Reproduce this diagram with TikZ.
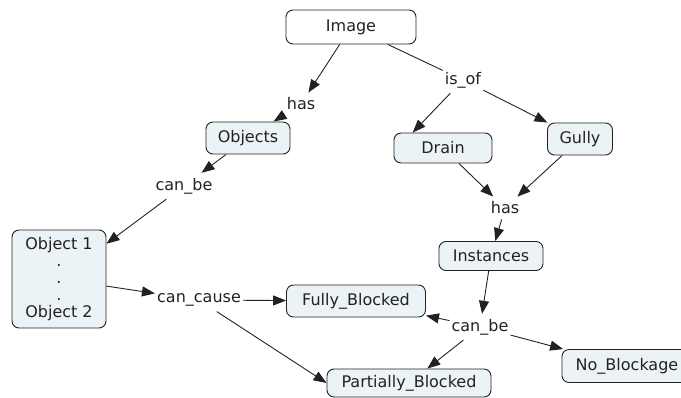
\documentclass[tikz,border=0pt]{standalone}
\usepackage{fontspec}
\setmainfont{DejaVu Sans}
\usepackage{xcolor}
\usetikzlibrary{arrows.meta}
\definecolor{boxfill}{RGB}{235,243,247}
\definecolor{ink}{RGB}{34,34,34}

\begin{document}
\begin{tikzpicture}[x=1pt,y=-1pt,
    font=\fontsize{16}{17}\selectfont,
    concept/.style={draw=ink,fill=boxfill,rounded corners=7pt,text=ink,inner sep=0pt,line width=0.9pt},
    linkword/.style={text=ink,inner xsep=2pt,inner ysep=5pt},
    >={Triangle[length=13pt,width=10pt]}]
\useasboundingbox (0,0) rectangle (681,398);
\clip (0,0) rectangle (681,398);
\begin{scope}
    \node[concept,fill=white,minimum width=130pt,minimum height=34pt] (img) at (351,27) {Image};
    \node[concept,minimum width=84pt,minimum height=32pt] (objs) at (248,138) {Objects};
    \node[concept,minimum width=98pt,minimum height=30pt] (drain) at (443,148) {Drain};
    \node[concept,minimum width=65pt,minimum height=32pt] (gully) at (580,139) {Gully};
    \node[concept,minimum width=104pt,minimum height=29pt] (inst) at (491,256) {Instances};
    \node[concept,align=center,minimum width=94pt,minimum height=98pt] (obj) at (59,279) {Object 1\\.\\.\\.\\Object 2};
    \node[concept,minimum width=139pt,minimum height=32pt] (full) at (356,301) {Fully\_Blocked};
    \node[concept,minimum width=164pt,minimum height=28pt] (part) at (409,383) {Partially\_Blocked};
    \node[concept,minimum width=130pt,minimum height=33pt] (none) at (627,366) {No\_Blockage};
\end{scope}
\begin{scope}
    \node[linkword] (has1) at (301,104) {has};
    \node[linkword] (isof) at (463,80) {is\_of};
    \node[linkword] (canbe1) at (184,186) {can\_be};
    \node[linkword] (has2) at (505,208) {has};
    \node[linkword] (cause) at (199,300) {can\_cause};
    \node[linkword] (canbe2) at (480,327) {can\_be};
\end{scope}
\begin{scope}[draw=ink,line width=0.9pt]
\draw[->] (img)--(has1);
\draw[->] (has1)--(objs);
\draw (img)--(isof);
\draw[->] (isof)--(drain.153);
\draw[->] (isof)--(gully);
\draw[->] (objs)--(canbe1);
\draw[->] (canbe1)--(obj);
\draw[->] (obj)--(cause);
\draw[->] (cause)--(full);
\draw[->] (cause)--(part.west);
\draw[->] (drain)--(has2);
\draw[->] (gully)--(has2);
\draw[->] (has2)--(inst);
\draw[->] (inst)--(canbe2);
\draw[->] (canbe2)--(full);
\draw[->] (canbe2)--(none);
\draw[->] (canbe2)--(part);
\end{scope}
\end{tikzpicture}
\end{document}
